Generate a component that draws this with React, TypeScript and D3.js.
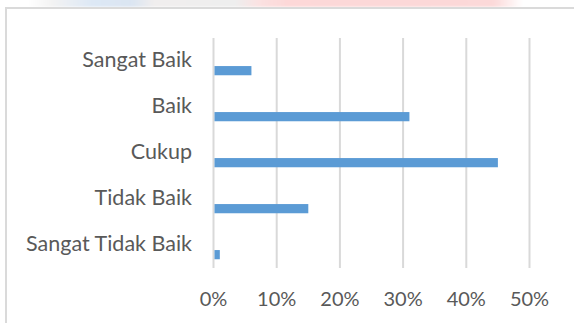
import React from "react";
import * as d3 from "d3";

// Survey answer categories, top to bottom, and their share of responses
const categories = ["Sangat Baik", "Baik", "Cukup", "Tidak Baik", "Sangat Tidak Baik"];
const shares = [0.06, 0.31, 0.45, 0.15, 0.01];
const tickValues = [0, 0.1, 0.2, 0.3, 0.4, 0.5];

const W = 574;
const H = 323;
const FONT = "Lato, 'Open Sans', sans-serif";
const TEXT = "#595959";
const GRID = "#d9d9d9";
const BAR = "#5b9bd5";

export default function App() {
  const x = d3.scaleLinear().domain([0, 0.5]).range([213.5, 529.5]);
  const y = d3.scaleBand<string>().domain(categories).range([38, 268]).padding(0);
  const bw = y.bandwidth();
  const fmt = d3.format(".0%");

  const stripStops: [number, string][] = [
    [0, "#ffffff"],
    [0.05, "#ffffff"],
    [0.09, "#f3f3f3"],
    [0.16, "#dde8f5"],
    [0.23, "#dbe5f2"],
    [0.27, "#f1eeee"],
    [0.41, "#eeeeee"],
    [0.45, "#fbe2e2"],
    [0.5, "#fdd8d8"],
    [0.86, "#fcd9d9"],
    [0.91, "#ffffff"],
    [1, "#ffffff"],
  ];

  return (
    <div style={{ position: "fixed", left: 0, top: 0 }}>
      <svg width={W} height={H} style={{ display: "block" }}>
        <defs>
          <linearGradient id="strip" x1="0" x2="1" y1="0" y2="0">
            {stripStops.map(([o, c], i) => (
              <stop key={i} offset={o} stopColor={c} />
            ))}
          </linearGradient>
          <filter id="soft" x="-5%" y="-50%" width="110%" height="200%">
            <feGaussianBlur stdDeviation="2 1" />
          </filter>
        </defs>
        <rect x={0} y={0} width={W} height={H} fill="#ffffff" />
        <rect x={0} y={-2} width={W} height={9} fill="url(#strip)" filter="url(#soft)" />
        <rect x={6} y={8} width={W + 20} height={H + 20} fill="#ffffff" stroke="#dadada" strokeWidth={2} />

        {tickValues.map((t) => (
          <line key={"g" + t} x1={x(t)} x2={x(t)} y1={38} y2={268} stroke={GRID} strokeWidth={2} />
        ))}

        {categories.map((c, i) => (
          <rect
            key={"b" + c}
            x={x(0) + 1}
            y={(y(c) as number) + bw * 0.61}
            width={x(shares[i]) - x(0) - 1}
            height={bw * 0.2}
            fill={BAR}
          />
        ))}

        {categories.map((c) => (
          <text
            key={"l" + c}
            x={192}
            y={(y(c) as number) + bw / 2 + 5.5}
            textAnchor="end"
            fontFamily={FONT}
            fontSize={21.5}
            fill={TEXT}
          >
            {c}
          </text>
        ))}

        {tickValues.map((t) => (
          <text
            key={"t" + t}
            x={x(t)}
            y={306}
            textAnchor="middle"
            fontFamily={FONT}
            fontSize={20}
            fill={TEXT}
          >
            {fmt(t)}
          </text>
        ))}
      </svg>
    </div>
  );
}
